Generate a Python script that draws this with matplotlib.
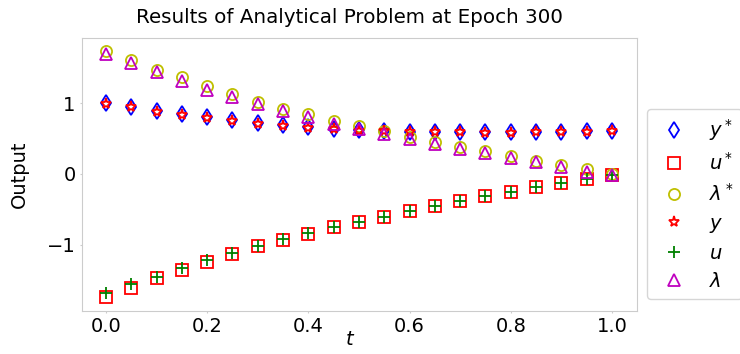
import numpy as np
import matplotlib
matplotlib.use("Agg")
import matplotlib.pyplot as plt

t = np.linspace(0, 1, 21)

# values
y_star = [1.005, 0.95, 0.89, 0.84, 0.80, 0.76, 0.72, 0.685, 0.657, 0.634, 0.615,
          0.605, 0.596, 0.595, 0.59, 0.59, 0.59, 0.59, 0.595, 0.60, 0.61]
u_star = [-1.73, -1.60, -1.47, -1.35, -1.235, -1.13, -1.02, -0.93, -0.84, -0.75, -0.67,
          -0.60, -0.525, -0.455, -0.38, -0.31, -0.25, -0.18, -0.12, -0.075, -0.01]
lam_star = [1.73, 1.60, 1.47, 1.36, 1.24, 1.13, 1.02, 0.92, 0.84, 0.75, 0.67,
            0.60, 0.525, 0.455, 0.385, 0.32, 0.255, 0.19, 0.125, 0.065, 0.0]
y_pred = [0.99, 0.94, 0.875, 0.83, 0.79, 0.75, 0.71, 0.68, 0.65, 0.63, 0.61,
          0.60, 0.59, 0.585, 0.585, 0.58, 0.58, 0.585, 0.59, 0.595, 0.60]
u_pred = [-1.67, -1.555, -1.45, -1.33, -1.215, -1.12, -1.01, -0.92, -0.835, -0.75, -0.67,
          -0.60, -0.525, -0.455, -0.38, -0.315, -0.25, -0.185, -0.125, -0.07, -0.01]
lam_pred = [1.69, 1.56, 1.44, 1.31, 1.19, 1.09, 0.99, 0.89, 0.80, 0.71, 0.63,
            0.56, 0.49, 0.42, 0.35, 0.29, 0.23, 0.165, 0.095, 0.03, -0.02]

fig = plt.figure(figsize=(7.4, 3.54), dpi=100)
ax = fig.add_axes([0.1108, 0.1215, 0.75, 0.771])

ms = 8
mw = 1.3
ax.plot(t, y_star, 'd', color='blue', mfc='none', ms=ms, mew=mw, label='$y^*$')
ax.plot(t, u_star, 's', color='red', mfc='none', ms=ms, mew=mw, label='$u^*$')
ax.plot(t, lam_star, 'o', color='y', mfc='none', ms=ms, mew=mw, label='$\\lambda^*$')
ax.plot(t, y_pred, '*', color='red', mfc='none', ms=ms, mew=mw, label='$y$')
ax.plot(t, u_pred, '+', color='green', ms=ms, mew=mw, label='$u$')
ax.plot(t, lam_pred, '^', color='m', mfc='none', ms=ms, mew=mw, label='$\\lambda$')

ax.set_xlim(-0.0474, 1.0494)
ax.set_ylim(-1.93, 1.915)
ax.set_xticks([0.0, 0.2, 0.4, 0.6, 0.8, 1.0])
ax.set_yticks([-1, 0, 1])
for s in ax.spines.values():
    s.set_color('#cccccc')
ax.tick_params(labelsize=14, color='#cccccc', length=1.5, pad=3)
ax.set_xlabel('$t$', fontsize=14)
ax.xaxis.set_label_coords(0.483, -0.068)
ax.set_ylabel('Output', fontsize=14)
ax.yaxis.set_label_coords(-0.095, 0.5)
ax.set_title('Results of Analytical Problem at Epoch 300', fontsize=14.3, pad=11, x=0.482)

ax.legend(loc='center left', bbox_to_anchor=(1.0, 0.392), fontsize=14,
          labelspacing=0.47, borderaxespad=0.5)

fig.savefig('out.png')
